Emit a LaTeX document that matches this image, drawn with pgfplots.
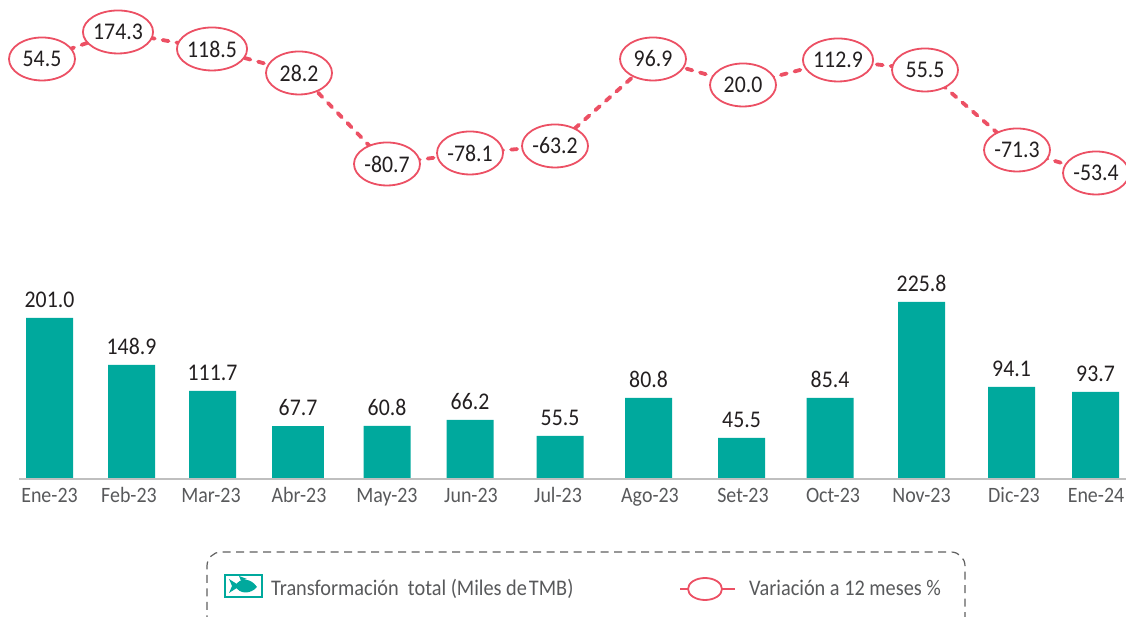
\documentclass[border=0pt]{standalone}
\usepackage{pgfplots}
\usepackage{pgfplotstable}
\usepackage{fontspec}
\usetikzlibrary{shapes.geometric}
\setmainfont[FakeStretch=0.91]{Carlito}
\pgfplotsset{compat=1.18}
\definecolor{teal1}{HTML}{00A99D}
\definecolor{coral}{HTML}{EC5064}
\definecolor{txt}{HTML}{231F20}
\definecolor{ticktxt}{HTML}{58595B}
% x = position along the axis, h = drawn height of the bar, label = printed value
\pgfplotstableread{
x h label
49.5 161 201.0
131.5 114 148.9
212.5 88 111.7
387 53 60.8
470 59 66.2
560 43 55.5
648.5 81 80.8
741.5 41 45.5
830 81 85.4
921.5 177 225.8
1011.5 92 94.1
1095.5 87 93.7
}\barsA
\pgfplotstableread{
x h label
298 53 67.7
}\barsB
% y = drawn height of the ellipse centre, label = printed value
\pgfplotstableread{
x y label
42 558 54.5
118 585 174.3
212 568 118.5
299 544 28.2
387 453 -80.7
470 464 -78.1
555 471 -63.2
653 558 96.9
743 532 20.0
838 557 112.9
925 547 55.5
1017 467 -71.3
1096 444 -53.4
}\linedata
\begin{document}
\begin{tikzpicture}[x=1bp,y=1bp]
\path[use as bounding box] (0,0) rectangle (1126,617);
\clip (0,0) rectangle (1126,617);
\begin{axis}[
  at={(0,138)}, anchor=origin,
  scale only axis, width=1126bp, height=479bp,
  xmin=0, xmax=1126, ymin=0, ymax=479,
  axis line style={draw=none},
  ytick=\empty,
  xtick={49.5,129,211,299,387,471,558,650,743,833,921.5,1014,1096},
  xticklabels={Ene-23,Feb-23,Mar-23,Abr-23,May-23,Jun-23,Jul-23,Ago-23,Set-23,Oct-23,Nov-23,Dic-23,Ene-24},
  major tick length=0pt,
  xticklabel style={font=\fontsize{22}{26}\selectfont, text=ticktxt, anchor=base, yshift=-24bp},
  clip=false,
  point meta=explicit symbolic,
  nodes near coords={\pgfplotspointmeta},
  every node near coord/.style={font=\fontsize{24}{28}\selectfont, text=txt, anchor=base, yshift=10bp, inner sep=0pt},
]
\addplot[ybar, bar width=47bp, bar shift=0pt, fill=teal1, draw=none] table[x=x,y=h,meta=label] {\barsA};
\addplot[ybar, bar width=52bp, bar shift=0pt, fill=teal1, draw=none] table[x=x,y=h,meta=label] {\barsB};
\addplot[draw=gray!50, line width=1.3bp, nodes near coords={}] coordinates {(19,0) (1126,0)};
\end{axis}
\begin{axis}[
  at={(0,0)}, anchor=origin,
  scale only axis, width=1126bp, height=617bp,
  xmin=0, xmax=1126, ymin=0, ymax=617,
  hide axis, clip=false,
  point meta=explicit symbolic,
  nodes near coords={\pgfplotspointmeta},
  every node near coord/.style={font=\fontsize{24}{28}\selectfont, text=txt, anchor=center, solid,
    ellipse, draw=coral, line width=1.8bp, fill=white, inner sep=0pt, line cap=butt,
    minimum width=66bp, minimum height=43bp},
]
\addplot[coral, line width=3.8bp, line cap=round, dash pattern=on 6bp off 8bp, mark=none] table[x=x,y=y,meta=label] {\linedata};
\end{axis}
% legend frame and keys
\draw[gray!75!black, line width=1.2bp, dash pattern=on 8bp off 5.5bp, rounded corners=14bp]
  (207,-20) -- (207,65) -- (965,65) -- (965,-20);
\draw[teal1, line width=2bp] (225,20) rectangle (262,42);
\fill[teal1] (235,31) .. controls (240,40) and (251,39) .. (257,30)
  .. controls (251,23) and (240,22) .. (235,31) -- cycle;
\fill[teal1] (240,31) -- (229,38) -- (232,31) -- (229,24) -- cycle;
\fill[teal1] (241,36) -- (239,41) -- (247,38) -- cycle;
\node[anchor=base west, inner sep=0pt, font=\fontsize{22.4}{26}\selectfont, text=ticktxt] at (271,21) {Transformación\ \ total (Miles de\hspace{2bp}TMB)};
\draw[coral, line width=1.8bp] (680,28) -- (688,28) (722,28) -- (735,28);
\draw[coral, line width=1.8bp] (705,28) ellipse (17 and 11);
\node[anchor=base west, inner sep=0pt, font=\fontsize{22.4}{26}\selectfont, text=ticktxt] at (749,21) {Variación a 12 meses \%};
\end{tikzpicture}
\end{document}
